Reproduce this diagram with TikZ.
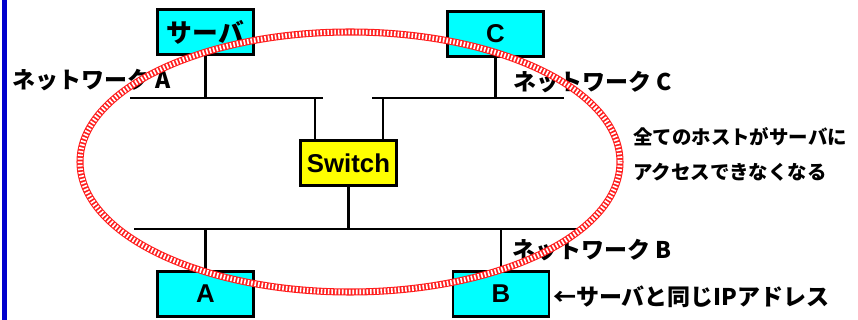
\documentclass[tikz,border=0pt]{standalone}
\usepackage{fontspec}
\newfontfamily\jpfont{Noto Sans CJK JP}
\newfontfamily\lafont{Liberation Sans}
\usetikzlibrary{positioning}
\definecolor{hostcyan}{RGB}{0,255,255}
\definecolor{swyellow}{RGB}{255,255,0}
\definecolor{barblue}{RGB}{0,0,204}
\definecolor{ringred}{RGB}{255,30,30}

\begin{document}
\begin{tikzpicture}[x=0.03cm, y=-0.03cm,
  hostbox/.style={draw, line width=2.4pt, fill=hostcyan, minimum width=2.88cm,
    minimum height=1.35cm, inner sep=0pt, font=\lafont\bfseries\fontsize{22}{22}\selectfont},
  swbox/.style={hostbox, fill=swyellow},
  bus/.style={line width=2.4pt},
  netlabel/.style={anchor=west, inner sep=0pt, font=\jpfont\bfseries\fontsize{19.6}{20}\selectfont},
  notelabel/.style={anchor=west, inner sep=0pt, font=\jpfont\bfseries\fontsize{16.6}{17}\selectfont}]
  \useasboundingbox (0,0) rectangle (858,320);

  %% left blue bar
  \fill[barblue] (2,0) rectangle (7,320);

  %% hosts and switch
  \node[hostbox] (srv) at (205.5,32) {\jpfont\bfseries サーバ};
  \node[hostbox] (hostC) at (495.5,34) {C};
  \node[swbox]   (sw) at (348.5,163) {Switch};
  \node[hostbox] (hostA) at (205.5,294) {A};
  \node[hostbox] (hostB) at (501,294) {B};

  %% bus ends
  \coordinate (busAl) at (130,98);
  \coordinate (busAr) at (323,98);
  \coordinate (busCl) at (372,98);
  \coordinate (busCr) at (564,98);
  \coordinate (busBl) at (134,229);
  \coordinate (busBr) at (578,229);
  \coordinate (swL) at (315,98);
  \coordinate (swR) at (383,98);

  %% buses
  \draw[bus] (busAl) -- (busAr);
  \draw[bus] (busCl) -- (busCr);
  \draw[bus] (busBl) -- (busBr);

  %% drops
  \draw[bus] (srv.south) -- (srv.south |- busAl);
  \draw[bus] (hostC.south) -- (hostC.south |- busCl);
  \draw[bus] (swL) -- (swL |- sw.north);
  \draw[bus] (swR) -- (swR |- sw.north);
  \draw[bus] (sw.south) -- (sw.south |- busBl);
  \draw[bus] (hostA.north) -- (hostA.north |- busBl);
  \draw[bus] (hostB.north) -- (hostB.north |- busBl);

  %% labels
  \node[netlabel] (labA) at (12,80) {ネットワーク A};
  \node[netlabel] (labC) at (513,82) {ネットワーク C};
  \node[netlabel] (labB) at (512,250) {ネットワーク B};
  \node[netlabel] (labIP) at (553,297) {←サーバと同じIPアドレス};
  \node[notelabel] (note1) at (633,137) {全てのホストがサーバに};
  \node[notelabel] (note2) at (633,172) {アクセスできなくなる};

  %% striped ring
  \draw[ringred, line width=6pt] (350,162) ellipse [x radius=270, y radius=130];
  \draw[white, line width=4.2pt, dash pattern=on 1.4pt off 1.6pt] (350,162) ellipse [x radius=270, y radius=130];
\end{tikzpicture}
\end{document}
